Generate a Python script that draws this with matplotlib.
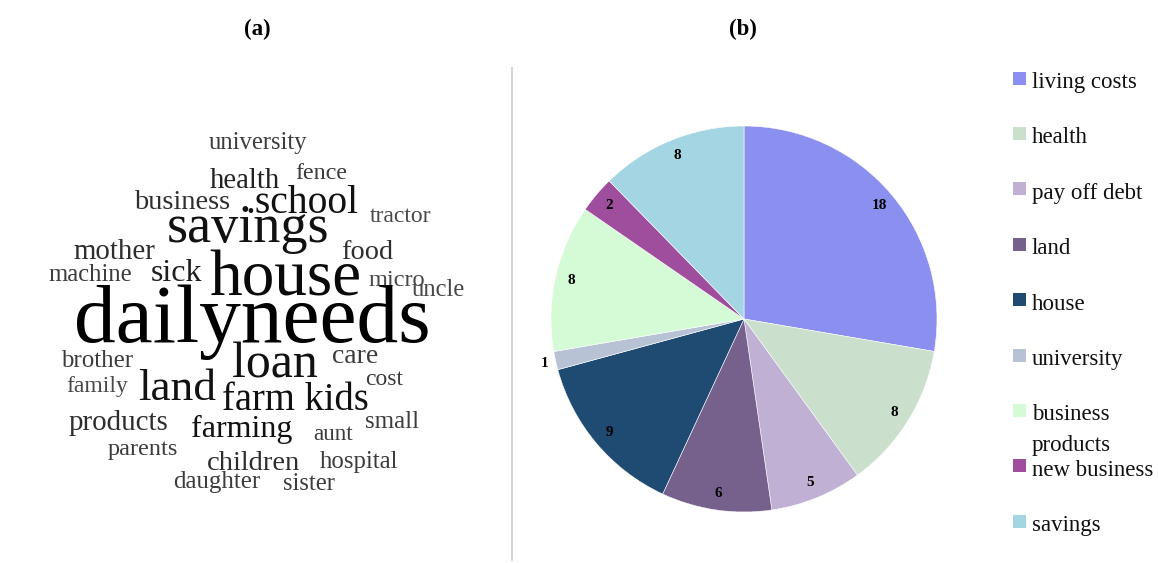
import matplotlib.pyplot as plt
import numpy as np
from matplotlib.patches import Rectangle

# word cloud (a): words and their relative weight (font size in pt)
words = ['university', 'health', 'fence', 'business', '.school', 'tractor',
         'savings', 'mother', 'food', 'machine', 'sick', 'house', 'micro',
         'uncle', 'dailyneeds', 'brother', 'loan', 'care', 'family', 'land',
         'cost', 'farm kids', 'products', 'farming', 'aunt', 'small',
         'parents', 'children', 'hospital', 'daughter', 'sister']
weights = [17.7, 20.6, 17.3, 20.5, 28.5, 17.0, 39.0, 20.8, 20.4, 17.7, 23.0,
           47.0, 17.6, 17.7, 60.0, 17.9, 36.0, 20.0, 17.0, 32.7, 17.0, 27.8,
           20.9, 23.0, 16.7, 18.0, 17.5, 20.5, 17.8, 17.9, 17.7]

# pie (b)
categories = ['living costs', 'health', 'pay off debt', 'land', 'house',
              'university', 'business', 'products\nnew business', 'savings']
counts = [18, 8, 5, 6, 9, 1, 8, 2, 8]
colors = ['#8b8fef', '#cadfcc', '#c0b0d3', '#76618d', '#1f4a72',
          '#b7c3d5', '#d5fad6', '#9e4e9c', '#a4d5e3']

# word placement (pixel centre x, baseline y) and grey tone
word_pos = [(258, 149), (245, 188), (321, 179), (182, 209), (302, 213),
            (401, 222), (248, 242), (114, 259), (367, 259), (90, 281),
            (177, 281), (285, 295), (397, 286), (438, 296), (252, 342),
            (97, 367), (275, 377), (355, 363), (97, 392), (177, 400),
            (384, 385), (295, 410), (118, 430), (242, 437), (333, 440),
            (392, 428), (143, 455), (253, 470), (359, 468), (217, 488),
            (309, 490)]
word_col = ['#3c3c3c', '#222', '#3c3c3c', '#2e2e2e', '#111', '#484848',
            '#111', '#2e2e2e', '#2e2e2e', '#3c3c3c', '#1e1e1e', '#0a0a0a',
            '#484848', '#484848', '#000', '#3c3c3c', '#111', '#3c3c3c',
            '#484848', '#111', '#3c3c3c', '#111', '#2e2e2e', '#111',
            '#3c3c3c', '#3c3c3c', '#3c3c3c', '#2e2e2e', '#3c3c3c', '#3c3c3c',
            '#3c3c3c']

W, H = 1158, 563
fig = plt.figure(figsize=(W / 100, H / 100), dpi=100)

# background axes in pixel units for the cloud, titles and divider
bg = fig.add_axes([0, 0, 1, 1])
bg.set_xlim(0, W)
bg.set_ylim(H, 0)
bg.axis('off')

for w, s, (x, y), c in zip(words, weights, word_pos, word_col):
    bg.text(x, y, w, fontsize=s, family='Liberation Serif', color=c,
            ha='center', va='baseline')

bg.plot([512, 512], [68, 560], color='#cccccc', lw=1.2)
bg.text(257, 29, '(a)', fontsize=16.5, fontweight='bold', family='Liberation Serif',
        ha='center', va='center')
bg.text(743, 29, '(b)', fontsize=16.5, fontweight='bold', family='Liberation Serif',
        ha='center', va='center')

# pie axes: centre (744, 319), radius 193 px
cx, cy, r = 744, 319, 193
ax = fig.add_axes([(cx - r) / W, (H - cy - r) / H, 2 * r / W, 2 * r / H])
wedges, _ = ax.pie(counts, colors=colors, startangle=90, counterclock=False,
                   radius=1, wedgeprops=dict(edgecolor='white', linewidth=0.4))
ax.set_xlim(-1, 1)
ax.set_ylim(-1, 1)
ax.axis('off')

for wdg, n in zip(wedges, counts):
    ang = np.deg2rad((wdg.theta1 + wdg.theta2) / 2)
    d = 1.06 if n < 2 else 0.915
    ax.text(d * np.cos(ang), d * np.sin(ang), str(n), fontsize=11,
            fontweight='bold', family='Liberation Serif',
            ha='center', va='center')

# legend drawn as boxes + labels
row0, step = 78, 55.4
for i, (lab, col) in enumerate(zip(categories, colors)):
    yc = row0 + i * step
    bg.add_patch(Rectangle((1013, yc - 6.5), 13, 13, facecolor=col,
                           edgecolor='none'))
    lines = lab.split('\n')
    for j, line in enumerate(reversed(lines)):
        bg.text(1032, yc + 10 - j * 25, line, fontsize=16.5,
                family='Liberation Serif', color='#111', ha='left',
                va='baseline')

fig.savefig('out.png', dpi=100)
